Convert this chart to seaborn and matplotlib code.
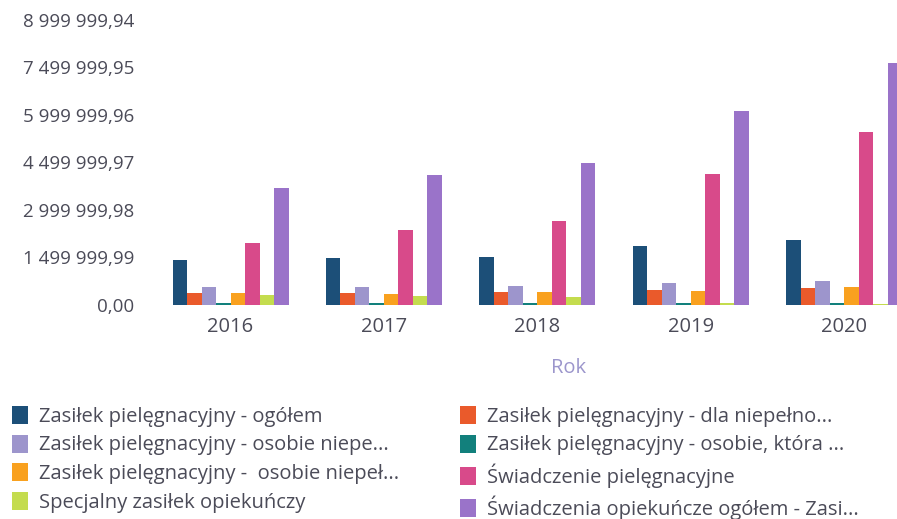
import matplotlib
matplotlib.use("Agg")
import matplotlib.pyplot as plt
from matplotlib.patches import Patch
import seaborn as sns
import pandas as pd

# Years on the category axis
years = ["2016", "2017", "2018", "2019", "2020"]

# Series names (legend labels, truncated as in the dashboard)
series = [
    "Zasiłek pielęgnacyjny - ogółem",
    "Zasiłek pielęgnacyjny - dla niepełno...",
    "Zasiłek pielęgnacyjny - osobie niepe...",
    "Zasiłek pielęgnacyjny - osobie, która ...",
    "Zasiłek pielęgnacyjny -  osobie niepeł...",
    "Świadczenie pielęgnacyjne",
    "Specjalny zasiłek opiekuńczy",
    "Świadczenia opiekuńcze ogółem - Zasi...",
]

# Values per series, one per year (PLN)
zp_ogolem = [1420000, 1480000, 1510000, 1870000, 2050000]
zp_dziecko = [390000, 380000, 420000, 480000, 530000]
zp_niepe = [570000, 560000, 590000, 710000, 770000]
zp_ktora = [55000, 55000, 55000, 55000, 55000]
zp_niepel = [370000, 360000, 400000, 450000, 580000]
sw_pielegnacyjne = [1960000, 2380000, 2640000, 4150000, 5470000]
specjalny = [300000, 290000, 260000, 70000, 35000]
sw_opiekuncze = [3700000, 4110000, 4490000, 6120000, 7640000]

colors = ["#1c4f78", "#ea5a2b", "#9d95cc", "#12807c",
          "#f9a11f", "#d84a8a", "#c4dc4e", "#9a73c9"]

# Y-axis ticks as exported by the dashboard
tick_step = 1499999.99
yticks = [tick_step * i for i in range(7)]

values = [zp_ogolem, zp_dziecko, zp_niepe, zp_ktora,
          zp_niepel, sw_pielegnacyjne, specjalny, sw_opiekuncze]
rows = []
for name, vals in zip(series, values):
    for y, v in zip(years, vals):
        rows.append({"Rok": y, "Wartość": v, "Seria": name})
df = pd.DataFrame(rows)

sns.set_theme(style="white")
plt.rcParams["font.family"] = ["Open Sans", "DejaVu Sans"]

W, H = 897, 519
fig = plt.figure(figsize=(W / 100, H / 100), dpi=100)
ax = fig.add_axes([148 / W, (H - 305) / H, (990 - 148) / W, 300 / H])

sns.barplot(data=df, x="Rok", y="Wartość", hue="Seria", hue_order=series,
            palette=colors, saturation=1, width=0.756, gap=0,
            linewidth=0, edgecolor="none",
            errorbar=None, legend=False, ax=ax)

ax.set_xlim(-0.538, 4.95)
ax.set_ylim(0, 9.47e6)
ax.set_yticks(yticks)
ax.set_yticklabels([f"{v:,.2f}".replace(",", " ").replace(".", ",") for v in yticks])
for s in ax.spines.values():
    s.set_visible(False)
ax.tick_params(axis="y", length=0, pad=10, labelsize=13.5, labelcolor="#4b4b58")
ax.tick_params(axis="x", length=0, pad=9, labelsize=14.5, labelcolor="#4b4b58")
ax.set_ylabel("")
ax.set_xlabel("Rok", fontsize=14.5, color="#9c96cc", labelpad=15)
ax.grid(False)

handles = [Patch(facecolor=c, edgecolor="none") for c in colors]
left_idx = [0, 2, 4, 6]
right_idx = [1, 3, 5, 7]
common = dict(frameon=False, loc="upper left", fontsize=14.5, handlelength=0.8,
              handleheight=1.0, handletextpad=0.55, labelspacing=0.38,
              borderpad=0, borderaxespad=0, labelcolor="#4b4b58")
fig.legend([handles[i] for i in left_idx], [series[i] for i in left_idx],
           bbox_to_anchor=(12 / W, 1 - 406 / H), **common)
fig.legend([handles[i] for i in right_idx], [series[i] for i in right_idx],
           bbox_to_anchor=(460 / W, 1 - 406 / H), **common)

fig.savefig("out.png", dpi=100)
